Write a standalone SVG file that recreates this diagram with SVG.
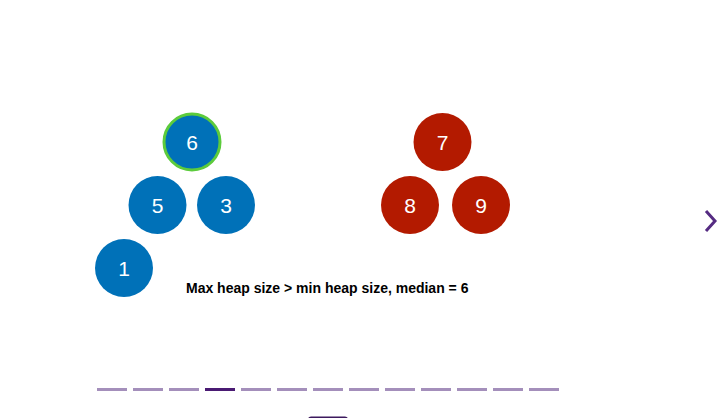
<svg xmlns="http://www.w3.org/2000/svg" width="727" height="418" viewBox="0 0 727 418">
<style>
.max{fill:#0071b8}
.min{fill:#b31a00}
.num{font-family:"Liberation Sans",Arial,sans-serif;font-size:21px;fill:#ffffff;text-anchor:middle}
.dash{fill:#a48fbb}
.cur{fill:#4a1a73}
.cap{font-family:"Liberation Sans",Arial,sans-serif;font-size:14px;font-weight:bold;fill:#000000}
</style>
<rect width="727" height="418" fill="#ffffff"/>
<g id="node-6"><circle class="max" cx="192" cy="142" r="28" stroke="#5ccb3c" stroke-width="3"/><text class="num" x="192" y="149.5">6</text></g>
<g id="node-5"><circle class="max" cx="157.5" cy="205" r="29"/><text class="num" x="157.5" y="212.5">5</text></g>
<g id="node-3"><circle class="max" cx="226" cy="205" r="29"/><text class="num" x="226" y="212.5">3</text></g>
<g id="node-1"><circle class="max" cx="124" cy="268" r="29"/><text class="num" x="124" y="275.5">1</text></g>
<g id="node-7"><circle class="min" cx="442.5" cy="142" r="29"/><text class="num" x="442.5" y="149.5">7</text></g>
<g id="node-8"><circle class="min" cx="410" cy="205" r="29"/><text class="num" x="410" y="212.5">8</text></g>
<g id="node-9"><circle class="min" cx="481" cy="205" r="29"/><text class="num" x="481" y="212.5">9</text></g>
<g id="connectors"></g>
<text class="cap" x="186" y="293">Max heap size &gt; min heap size, median = 6</text>
<polyline points="706,211 715,221 706,231" fill="none" stroke="#552b82" stroke-width="3"/>
<g id="progress">
<rect class="dash" x="97" y="388" width="30" height="3"/>
<rect class="dash" x="133" y="388" width="30" height="3"/>
<rect class="dash" x="169" y="388" width="30" height="3"/>
<rect class="cur" x="205" y="388" width="30" height="3"/>
<rect class="dash" x="241" y="388" width="30" height="3"/>
<rect class="dash" x="277" y="388" width="30" height="3"/>
<rect class="dash" x="313" y="388" width="30" height="3"/>
<rect class="dash" x="349" y="388" width="30" height="3"/>
<rect class="dash" x="385" y="388" width="30" height="3"/>
<rect class="dash" x="421" y="388" width="30" height="3"/>
<rect class="dash" x="457" y="388" width="30" height="3"/>
<rect class="dash" x="493" y="388" width="30" height="3"/>
<rect class="dash" x="529" y="388" width="30" height="3"/>
</g>
<rect x="308" y="416.5" width="40" height="6" rx="3" fill="#3d1a5e"/>
</svg>
